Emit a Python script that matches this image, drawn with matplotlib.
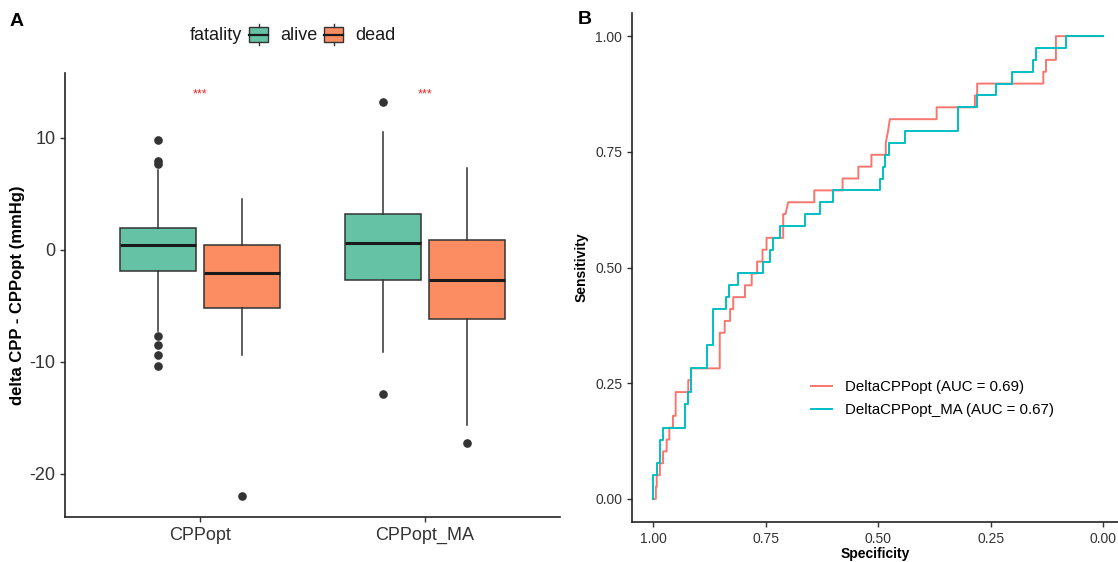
import matplotlib
matplotlib.use("Agg")
import matplotlib.pyplot as plt
from matplotlib.patches import Rectangle
from matplotlib.lines import Line2D

plt.rcParams['font.family'] = ['Liberation Sans', 'DejaVu Sans']
plt.rcParams['axes.unicode_minus'] = False

# ---- panel A data (box statistics) ----
groups = ['CPPopt', 'CPPopt_MA']
fatality = ['alive', 'dead']
fills = {'alive': '#66C2A5', 'dead': '#FC8D62'}

med = {'alive': [0.45, 0.6], 'dead': [-2.1, -2.7]}
q1 = {'alive': [-1.9, -2.68], 'dead': [-5.15, -6.19]}
q3 = {'alive': [2.0, 3.19], 'dead': [0.45, 0.92]}
whis_lo = {'alive': [-7.2, -9.08], 'dead': [-9.4, -15.6]}
whis_hi = {'alive': [7.1, 10.5], 'dead': [4.55, 7.3]}
fliers = {'alive': [[9.8, 7.9, 7.7, -7.7, -8.5, -9.4, -10.4], [13.2, -12.9]],
          'dead': [[-22.0], [-17.2]]}
signif = ['***', '***']
signif_y = 13.9

# ---- panel B data: ROC step curves (specificity, cases detected out of 39) ----
n_cases = 39
roc1_label = 'DeltaCPPopt (AUC = 0.69)'
roc1_spec = [1.000, 0.994, 0.994, 0.992, 0.992, 0.985, 0.985, 0.978, 0.978, 0.970,
             0.970, 0.964, 0.964, 0.956, 0.956, 0.950, 0.950, 0.922, 0.922, 0.916,
             0.916, 0.852, 0.852, 0.841, 0.841, 0.829, 0.829, 0.822, 0.822, 0.796,
             0.796, 0.781, 0.781, 0.769, 0.769, 0.757, 0.757, 0.748, 0.748, 0.711,
             0.711, 0.706, 0.700, 0.642, 0.642, 0.579, 0.579, 0.544, 0.544, 0.515,
             0.515, 0.483, 0.483, 0.478, 0.474, 0.370, 0.370, 0.285, 0.285, 0.280,
             0.280, 0.133, 0.133, 0.127, 0.127, 0.105, 0.105, 0.000]
roc1_hits = [0, 0, 1, 1, 2, 2, 3, 3, 4, 4,
             5, 5, 6, 6, 7, 7, 9, 9, 10, 10,
             11, 11, 14, 14, 15, 15, 16, 16, 17, 17,
             18, 18, 19, 19, 20, 20, 21, 21, 22, 22,
             24, 24, 25, 25, 26, 26, 27, 27, 28, 28,
             29, 29, 30, 31, 32, 32, 33, 33, 34, 34,
             35, 35, 36, 36, 37, 37, 39, 39]

roc2_label = 'DeltaCPPopt_MA (AUC = 0.67)'
roc2_spec = [1.000, 1.000, 0.992, 0.992, 0.985, 0.985, 0.978, 0.978, 0.929, 0.929,
             0.923, 0.923, 0.916, 0.916, 0.880, 0.880, 0.867, 0.867, 0.838, 0.838,
             0.832, 0.832, 0.811, 0.811, 0.756, 0.756, 0.741, 0.741, 0.733, 0.733,
             0.718, 0.718, 0.663, 0.663, 0.630, 0.630, 0.600, 0.600, 0.496, 0.496,
             0.490, 0.490, 0.484, 0.484, 0.475, 0.475, 0.441, 0.441, 0.322, 0.322,
             0.281, 0.281, 0.238, 0.238, 0.202, 0.202, 0.155, 0.155, 0.149, 0.149,
             0.083, 0.083, 0.000]
roc2_hits = [0, 2, 2, 3, 3, 5, 5, 6, 6, 8,
             8, 9, 9, 11, 11, 13, 13, 16, 16, 17,
             17, 18, 18, 19, 19, 20, 20, 21, 21, 22,
             22, 23, 23, 24, 24, 25, 25, 26, 26, 27,
             27, 28, 28, 29, 29, 30, 30, 31, 31, 33,
             33, 34, 34, 35, 35, 36, 36, 37, 37, 38,
             38, 39, 39]

W, H = 1118, 562
fig = plt.figure(figsize=(W / 100, H / 100), dpi=100)


def fx(px):
    return px / W


def fy(py):
    return 1 - py / H


# ================= panel A =================
axA = fig.add_axes([fx(65), fy(517), fx(560) - fx(65), fy(73) - fy(517)])
offsets = {'alive': -0.1875, 'dead': 0.1875}
for f in fatality:
    stats = []
    for i, g in enumerate(groups):
        stats.append(dict(med=med[f][i], q1=q1[f][i], q3=q3[f][i],
                          whislo=whis_lo[f][i], whishi=whis_hi[f][i],
                          fliers=fliers[f][i]))
    pos = [i + 1 + offsets[f] for i in range(len(groups))]
    axA.bxp(stats, positions=pos, widths=0.3375, patch_artist=True,
            showcaps=False,
            boxprops=dict(facecolor=fills[f], edgecolor='#333333', linewidth=1.1),
            medianprops=dict(color='#1a1a1a', linewidth=2.2),
            whiskerprops=dict(color='#333333', linewidth=1.1),
            flierprops=dict(marker='o', markersize=5.2, markerfacecolor='#333333',
                            markeredgecolor='#333333'))

for i, s in enumerate(signif):
    axA.text(i + 1, signif_y, s, color='#E8262A', fontsize=9,
             ha='center', va='center')

axA.set_xlim(0.4, 2.6)
axA.set_ylim(-23.84, 15.8)
axA.set_xticks([1, 2])
axA.set_xticklabels(groups)
axA.set_yticks([-20, -10, 0, 10])
axA.set_ylabel('delta CPP - CPPopt (mmHg)', fontsize=12, fontweight='bold',
               color='black')
axA.yaxis.set_label_coords(-0.08, 0.5)
for side in ['top', 'right']:
    axA.spines[side].set_visible(False)
for side in ['left', 'bottom']:
    axA.spines[side].set_linewidth(1.2)
    axA.spines[side].set_color('#222222')
axA.tick_params(axis='both', labelsize=13, colors='#333333', length=3.5, width=1.0)

# legend for panel A, drawn on top of the figure
fig.text(fx(190), fy(35), 'fatality', fontsize=13, ha='left', va='center', color='#1a1a1a')
for f, kx, tx in [('alive', 249, 280), ('dead', 324, 355)]:
    fig.patches.append(Rectangle((fx(kx), fy(42)), fx(19), fy(27) - fy(42),
                                 transform=fig.transFigure, facecolor=fills[f],
                                 edgecolor='#333333', linewidth=1.0))
    fig.lines.append(Line2D([fx(kx), fx(kx + 19)], [fy(34.5), fy(34.5)],
                            transform=fig.transFigure, color='#1a1a1a', linewidth=1.6))
    fig.lines.append(Line2D([fx(kx + 9.5)] * 2, [fy(24), fy(27)],
                            transform=fig.transFigure, color='#333333', linewidth=1.0))
    fig.lines.append(Line2D([fx(kx + 9.5)] * 2, [fy(42), fy(45)],
                            transform=fig.transFigure, color='#333333', linewidth=1.0))
    fig.text(fx(tx), fy(35), f, fontsize=13, ha='left', va='center', color='#1a1a1a')

fig.text(fx(10), fy(22), 'A', fontsize=14, fontweight='bold', ha='left', va='center')

# ================= panel B =================
axB = fig.add_axes([fx(632), fy(522), fx(1118) - fx(632), fy(13) - fy(522)])
sens1 = [h / n_cases for h in roc1_hits]
sens2 = [h / n_cases for h in roc2_hits]
axB.plot(roc1_spec, sens1, color='#F8766D', linewidth=1.4, label=roc1_label)
axB.plot(roc2_spec, sens2, color='#00BFC4', linewidth=1.4, label=roc2_label)
axB.set_xlim(1.047, -0.033)
axB.set_ylim(-0.05, 1.05)
ticks = [0, 0.25, 0.5, 0.75, 1.0]
axB.set_xticks(ticks)
axB.set_xticklabels(['%.2f' % t for t in ticks])
axB.set_yticks(ticks)
axB.set_yticklabels(['%.2f' % t for t in ticks])
axB.set_xlabel('Specificity', fontsize=10, fontweight='bold', labelpad=1)
axB.set_ylabel('Sensitivity', fontsize=10, fontweight='bold', labelpad=5)
for side in ['top', 'right']:
    axB.spines[side].set_visible(False)
for side in ['left', 'bottom']:
    axB.spines[side].set_linewidth(1.2)
    axB.spines[side].set_color('#222222')
axB.tick_params(axis='both', labelsize=10, colors='#333333', length=3.5, width=1.0)
axB.legend(loc='center left', bbox_to_anchor=(0.34, 0.242), frameon=False,
           fontsize=10.8, handlelength=1.45, handletextpad=0.85, labelspacing=0.6)

fig.text(fx(578), fy(20), 'B', fontsize=14, fontweight='bold', ha='left', va='center')

fig.savefig('out.png', dpi=100)
